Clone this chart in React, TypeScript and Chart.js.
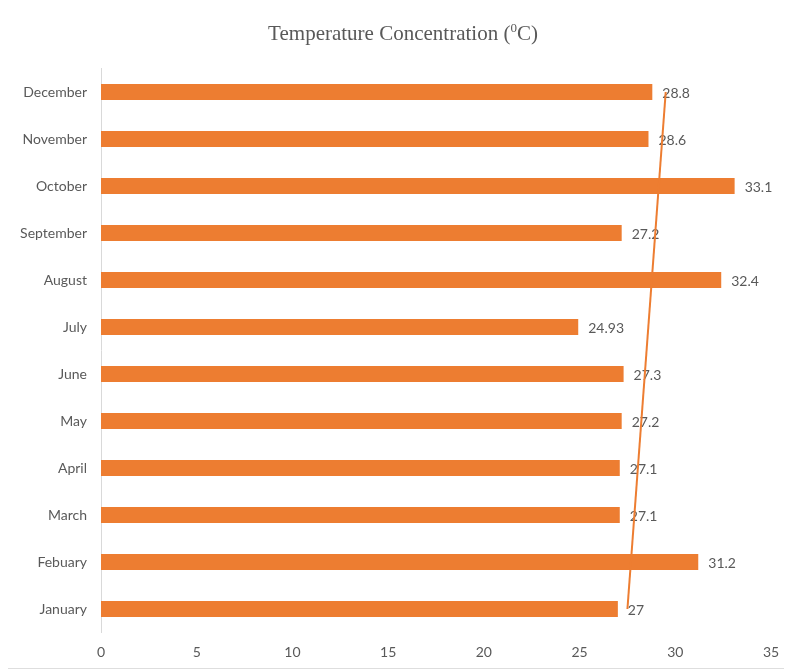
import React, { useEffect, useRef } from "react";
import { Chart, registerables } from "chart.js";

Chart.register(...registerables);

const months = ["January", "Febuary", "March", "April", "May", "June", "July", "August", "September", "October", "November", "December"];
const temperatures = [27, 31.2, 27.1, 27.1, 27.2, 27.3, 24.93, 32.4, 27.2, 33.1, 28.6, 28.8];
const trendline = [27.5, null, null, null, null, null, null, null, null, null, null, 29.5];
const xTicks = [0, 5, 10, 15, 20, 25, 30, 35];
const titleParts = ["Temperature Concentration (", "0", "C)"];

const ORANGE = "#ED7D31";
const TEXT = "#595959";
const FONT = "Lato, 'Noto Sans', sans-serif";
const SERIF = "'Liberation Serif', 'Times New Roman', serif";

const labelPlugin = {
  id: "barLabels",
  afterDatasetDraw(chart: any, args: any) {
    if (args.index !== 0) return;
    const ctx = chart.ctx;
    const meta = chart.getDatasetMeta(0);
    ctx.save();
    ctx.fillStyle = TEXT;
    ctx.font = `14px ${FONT}`;
    ctx.textAlign = "left";
    ctx.textBaseline = "middle";
    meta.data.forEach((el: any, i: number) => {
      ctx.fillText(String(temperatures[i]), el.x + 10, el.y + 1);
    });
    ctx.restore();
  },
};

const titlePlugin = {
  id: "customTitle",
  afterDraw(chart: any) {
    const ctx = chart.ctx;
    ctx.save();
    ctx.fillStyle = TEXT;
    ctx.textAlign = "left";
    ctx.textBaseline = "alphabetic";
    const big = `21px ${SERIF}`;
    const small = `13px ${SERIF}`;
    ctx.font = big;
    const w1 = ctx.measureText(titleParts[0]).width;
    const w3 = ctx.measureText(titleParts[2]).width;
    ctx.font = small;
    const w2 = ctx.measureText(titleParts[1]).width;
    const total = w1 + w2 + w3;
    const cx = 396;
    const baseline = 32;
    let x = cx - total / 2;
    ctx.font = big;
    ctx.fillText(titleParts[0], x, baseline);
    x += w1;
    ctx.font = small;
    ctx.fillText(titleParts[1], x, baseline - 8);
    x += w2;
    ctx.font = big;
    ctx.fillText(titleParts[2], x, baseline);
    ctx.restore();
  },
};

export default function App() {
  const ref = useRef<HTMLCanvasElement>(null);
  useEffect(() => {
    if (!ref.current) return;
    const chart = new Chart(ref.current, {
      type: "bar",
      data: {
        labels: months,
        datasets: [
          {
            type: "bar",
            data: temperatures,
            backgroundColor: ORANGE,
            borderWidth: 0,
            barPercentage: 1,
            categoryPercentage: 0.34,
            order: 1,
          } as any,
          {
            type: "line",
            indexAxis: "y",
            data: trendline,
            borderColor: ORANGE,
            borderWidth: 2,
            pointRadius: 0,
            spanGaps: true,
            fill: false,
            order: 0,
          } as any,
        ],
      },
      options: {
        indexAxis: "y",
        animation: false,
        responsive: false,
        maintainAspectRatio: false,
        layout: { padding: { left: 0, right: 21, top: 60.5, bottom: 0 } },
        plugins: {
          legend: { display: false },
          tooltip: { enabled: false },
          title: { display: false },
        },
        scales: {
          x: {
            min: 0,
            max: 35,
            afterBuildTicks: (axis: any) => {
              axis.ticks = xTicks.map((v) => ({ value: v }));
            },
            grid: { display: false, drawTicks: false },
            border: { display: false },
            ticks: { color: TEXT, font: { family: FONT, size: 14 }, padding: 12 },
            afterFit: (axis: any) => {
              axis.height = 35.5;
            },
          },
          y: {
            reverse: true,
            grid: { display: false, drawTicks: false },
            border: { display: true, color: "#d9d9d9", width: 1 },
            ticks: { color: TEXT, font: { family: FONT, size: 14 }, padding: 14 },
            afterFit: (axis: any) => {
              axis.width = 94;
            },
          },
        },
      },
      plugins: [labelPlugin, titlePlugin],
    });
    return () => chart.destroy();
  }, []);

  return (
    <div
      style={{
        width: 786,
        height: 662,
        boxSizing: "border-box",
        marginLeft: -2,
        marginTop: -1,
        borderTop: "1px solid #dedede",
        borderLeft: "1px solid #dedede",
        borderBottom: "1px solid #dedede",
        background: "#fff",
      }}
    >
      <canvas ref={ref} width={785} height={660} style={{ display: "block" }} />
    </div>
  );
}
